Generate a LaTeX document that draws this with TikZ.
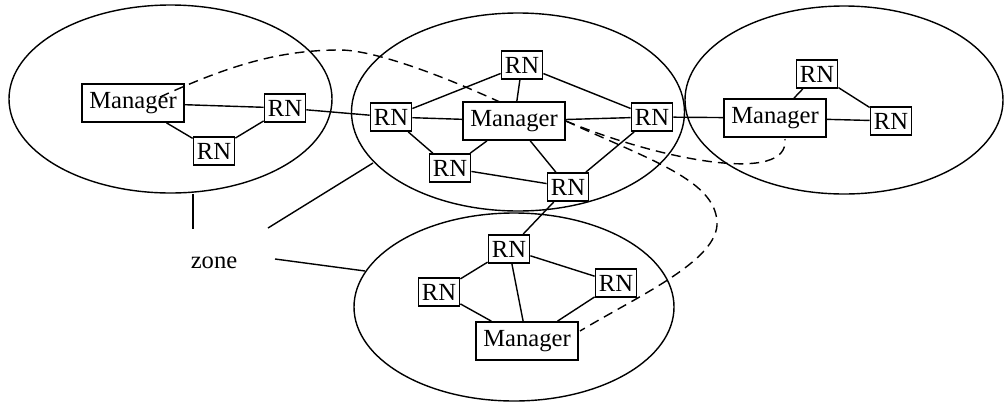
\documentclass[tikz,border=0pt]{standalone}
\usepackage{fontspec}
\setmainfont{Liberation Serif}
\usetikzlibrary{calc}

\begin{document}
\begin{tikzpicture}[x=0.02cm,y=-0.02cm,
    every node/.style={font=\fontsize{14}{16}\selectfont},
    rnbox/.style={draw,line width=1pt,minimum width=0.82cm,minimum height=0.56cm,inner sep=1pt},
    mgrbox/.style={draw,line width=1pt,minimum width=2.04cm,minimum height=0.76cm,inner sep=1pt},
    link/.style={line width=0.8pt},
    mgrlink/.style={line width=0.8pt,dash pattern=on 5.5pt off 3.5pt}]
  \useasboundingbox (0,0) rectangle (1004,403);
  %% Zones
  \draw[link] (170.5,99) ellipse [x radius=161.5,y radius=94];
  \draw[link] (518,112) ellipse [x radius=166.5,y radius=99];
  \draw[link] (844,100) ellipse [x radius=159,y radius=94];
  \draw[link] (514,307) ellipse [x radius=160,y radius=94];
  %% Left zone
  \node[mgrbox] (mgrL) at (133,103) {Manager};
  \node[rnbox] (rnLa) at (285,108) {RN};
  \node[rnbox] (rnLb) at (214,151) {RN};
  %% Middle zone
  \node[mgrbox] (mgrM) at (514,121) {Manager};
  \node[rnbox] (rnMt) at (522,65) {RN};
  \node[rnbox] (rnMl) at (391,117) {RN};
  \node[rnbox] (rnMr) at (652,117) {RN};
  \node[rnbox] (rnMbl) at (450,168) {RN};
  \node[rnbox] (rnMbr) at (568,187) {RN};
  %% Right zone
  \node[mgrbox] (mgrR) at (775,118) {Manager};
  \node[rnbox] (rnRt) at (817,74) {RN};
  \node[rnbox] (rnRr) at (891,121) {RN};
  %% Bottom zone
  \node[mgrbox] (mgrB) at (527,341) {Manager};
  \node[rnbox] (rnBt) at (509,249) {RN};
  \node[rnbox] (rnBl) at (439,292) {RN};
  \node[rnbox] (rnBr) at (616,283) {RN};
  %% Links
  \draw[link] (mgrL) -- (rnLa);
  \draw[link] (mgrL) -- (rnLb);
  \draw[link] (rnLb) -- (rnLa);
  \draw[link] (rnLa) -- (rnMl);
  \draw[link] (rnMl) -- (mgrM);
  \draw[link] (rnMl) -- (rnMt);
  \draw[link] (rnMt) -- (mgrM);
  \draw[link] (rnMt) -- (rnMr);
  \draw[link] (mgrM) -- (rnMr);
  \draw[link] (rnMl) -- (rnMbl);
  \draw[link] (rnMbl) -- (mgrM);
  \draw[link] (rnMbl) -- (rnMbr);
  \draw[link] (mgrM) -- (rnMbr);
  \draw[link] (rnMbr) -- (rnMr);
  \draw[link] (rnMr) -- (mgrR);
  \draw[link] (mgrR) -- (rnRt);
  \draw[link] (rnRt) -- (rnRr);
  \draw[link] (mgrR) -- (rnRr);
  \draw[link] (rnMbr) -- (rnBt);
  \draw[link] (rnBt) -- (rnBl);
  \draw[link] (rnBt) -- (mgrB);
  \draw[link] (rnBt) -- (rnBr);
  \draw[link] (rnBl) -- (mgrB);
  \draw[link] (rnBr) -- (mgrB);
  %% Manager to manager
  \coordinate (dL) at (160,97);
  \coordinate (dM) at (502,103);
  \coordinate (dR) at (785,139);
  \coordinate (dB) at (580,331);
  \draw[mgrlink] (dL) .. controls (230,65) and (280,50) .. (340,50)
                      .. controls (370,50) and (430,70) .. (dM);
  \draw[mgrlink] (mgrM.east) .. controls (660,160) and (790,185) .. (dR);
  \draw[mgrlink] (mgrM.east) .. controls (650,160) and (715,180) .. (717,222)
                             .. controls (719,260) and (640,295) .. (dB);
  %% Zone label
  \node (zone) at (214,263) {zone};
  \coordinate (zL) at (193,194);
  \coordinate (zL2) at (193,229);
  \coordinate (zM) at (373,163);
  \coordinate (zM2) at (268,228);
  \coordinate (zB) at (365,271);
  \coordinate (zB2) at (275,259);
  \draw[link] (zL) -- (zL2);
  \draw[link] (zM) -- (zM2);
  \draw[link] (zB) -- (zB2);
\end{tikzpicture}
\end{document}
